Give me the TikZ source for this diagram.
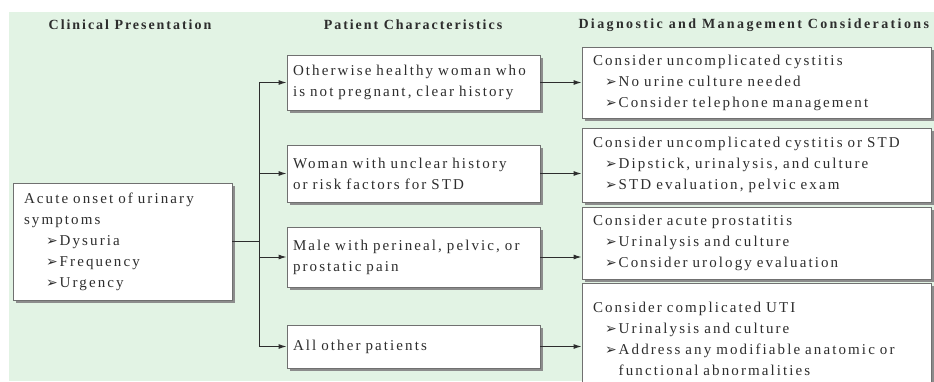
\documentclass[tikz,border=0pt]{standalone}
\usepackage{fontspec}
\setmainfont{Liberation Serif}[LetterSpace=14]
\newfontfamily\dingfont{DejaVu Sans}
\usetikzlibrary{shadows,arrows.meta}

\definecolor{bggreen}{RGB}{226,243,228}
\definecolor{boxline}{RGB}{112,112,112}
\definecolor{ink}{RGB}{45,45,45}

\newcommand{\bul}[1][12pt]{\hspace*{#1}{\dingfont\fontsize{14}{14}\selectfont ➢}\hspace{2pt}}
\newcommand{\bulgap}[1][12pt]{\hspace*{#1}\phantom{{\dingfont\fontsize{14}{14}\selectfont ➢}}\hspace{2pt}}

\tikzset{
  box/.style={draw=boxline, fill=white, line width=0.9pt, inner xsep=11pt, align=left,
    font=\fontsize{15}{21}\selectfont, text=ink,
    drop shadow={shadow xshift=2.5pt, shadow yshift=-2.5pt, fill=black!45, opacity=1}},
  midbox/.style={box, inner xsep=6pt, text width=241pt},
  head/.style={font=\fontsize{14}{16}\selectfont\bfseries, text=ink},
  arr/.style={-{Latex[length=8pt,width=5pt]}},
}

\begin{document}
\begin{tikzpicture}[x=1pt, y=-1pt, line width=1pt, draw=ink]

  \clip (0,0) rectangle (934,381);
  \fill[white] (0,0) rectangle (934,381);
  \fill[bggreen] (9,12) rectangle (934,381);

  \node[head] (hclin) at (130,25) {Clinical Presentation};
  \node[head] (hpat) at (413,25) {Patient Characteristics};
  \node[head, anchor=west, inner xsep=0pt] (hdiag) at (578,25)
    {\addfontfeatures{LetterSpace=17}Diagnostic and Management Considerations};

  \node[box, text width=197pt, minimum height=117pt] (lft) at (122.5,241.5)
    {Acute onset of urinary\\ symptoms\\ \bul[22pt]Dysuria\\ \bul[22pt]Frequency\\ \bul[22pt]Urgency};

  \node[midbox, minimum height=55pt] (mid1) at (413.5,82.5)
    {Otherwise healthy woman who\\ is not pregnant, clear history};
  \node[midbox, minimum height=57pt] (mid2) at (413.5,173.5)
    {Woman with unclear history\\ or risk factors for STD};
  \node[midbox, minimum height=60pt] (mid3) at (413.5,257)
    {Male with perineal, pelvic, or\\ prostatic pain};
  \node[midbox, minimum height=43pt] (mid4) at (413.5,346.5)
    {All other patients};

  \node[box, text width=327pt, minimum height=71pt] (rgt1) at (756.5,82.5)
    {Consider uncomplicated cystitis\\ \bul No urine culture needed\\ \bul Consider telephone management};
  \node[box, text width=327pt, minimum height=74pt] (rgt2) at (756.5,165)
    {Consider uncomplicated cystitis or STD\\ \bul Dipstick, urinalysis, and culture\\ \bul STD evaluation, pelvic exam};
  \node[box, text width=327pt, minimum height=72pt] (rgt3) at (756.5,243)
    {Consider acute prostatitis\\ \bul Urinalysis and culture\\ \bul Consider urology evaluation};
  \node[box, text width=327pt, minimum height=112pt] (rgt4) at (756.5,339)
    {Consider complicated UTI\\ \bul Urinalysis and culture\\ \bul Address any modifiable anatomic or\\ \bulgap functional abnormalities};

  \coordinate (split) at (259,241.5);
  \draw (lft.east) -- (split);
  \draw (split |- mid1.west) -- (split |- mid4.west);
  \foreach \i in {1,...,4} {
    \draw[arr] (split |- mid\i.west) -- (mid\i.west);
    \draw[arr] (mid\i.east) -- (mid\i.east -| rgt\i.west);
  }

\end{tikzpicture}
\end{document}
